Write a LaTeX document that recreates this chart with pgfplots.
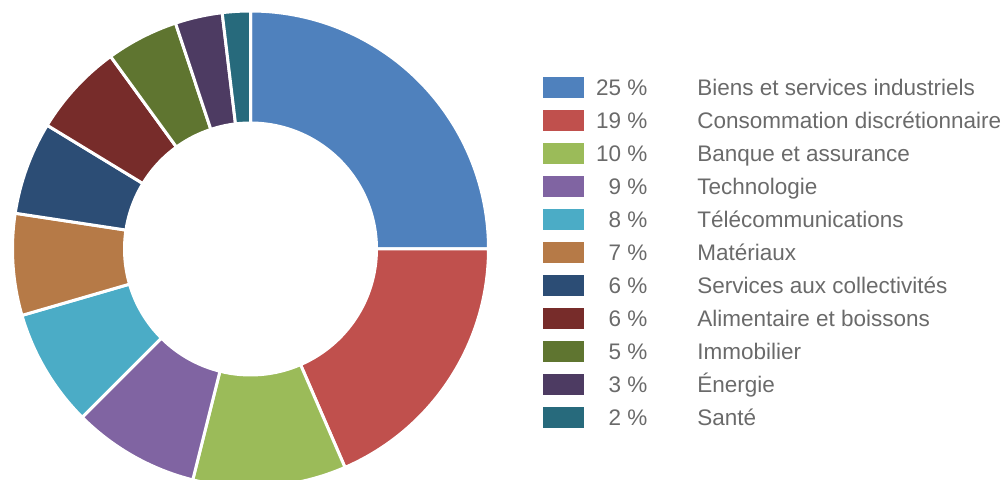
\documentclass[border=0pt]{standalone}
\usepackage{fontspec}
\setmainfont{Liberation Sans}
\usepackage{pgfplots}
\usepackage{pgfplotstable}
\pgfplotsset{compat=1.18}
\definecolor{c0}{HTML}{4F81BD}
\definecolor{c1}{HTML}{C0504D}
\definecolor{c2}{HTML}{9BBB59}
\definecolor{c3}{HTML}{8064A2}
\definecolor{c4}{HTML}{4BACC6}
\definecolor{c5}{HTML}{B67A47}
\definecolor{c6}{HTML}{2C4D75}
\definecolor{c7}{HTML}{772C2A}
\definecolor{c8}{HTML}{5F7530}
\definecolor{c9}{HTML}{4D3B62}
\definecolor{c10}{HTML}{276A7C}
\definecolor{txt}{HTML}{6A6A6A}

\pgfplotstableread{
share
25.0
18.5
10.4
8.6
8.0
6.9
6.3
6.3
4.9
3.2
1.9
}\shares

\begin{document}
\begin{tikzpicture}
\begin{axis}[name=ax, x=1pt, y=1pt, xmin=0, xmax=1008, ymin=0, ymax=479,
  hide axis, disabledatascaling, clip=true,
  legend style={at={(axis cs:543,402)}, anchor=north west, draw=none, fill=none,
    inner sep=0pt, outer sep=0pt, row sep=9.8pt, column sep=0pt,
    font=\fontsize{22.5}{27}\selectfont, text=txt,
    nodes={inner sep=0pt, outer sep=0pt, text height=17pt, text depth=5pt}},
  legend cell align=left,
  legend image code/.code={\fill[#1] (0pt,-8pt) rectangle (40pt,12pt);},
]
\gdef\startang{90}
\pgfplotsinvokeforeach{0,...,10}{%
  \pgfplotstablegetelem{#1}{share}\of\shares
  \pgfmathsetmacro\endang{\startang-3.6*\pgfplotsretval}%
  \edef\cmd{\noexpand\fill[c#1, draw=white, line width=3pt] (axis cs:250.5,230) ++(\startang:238pt) arc[start angle=\startang, end angle=\endang, radius=238pt] -- ++(\endang:-112pt) arc[start angle=\endang, end angle=\startang, radius=126pt] -- cycle;}%
  \cmd
  \global\let\startang\endang
}
\addlegendimage{c0}\addlegendentry{\makebox[64pt][r]{25 \%}\hspace{50pt}Biens et services industriels}
\addlegendimage{c1}\addlegendentry{\makebox[64pt][r]{19 \%}\hspace{50pt}Consommation discrétionnaire}
\addlegendimage{c2}\addlegendentry{\makebox[64pt][r]{10 \%}\hspace{50pt}Banque et assurance}
\addlegendimage{c3}\addlegendentry{\makebox[64pt][r]{9 \%}\hspace{50pt}Technologie}
\addlegendimage{c4}\addlegendentry{\makebox[64pt][r]{8 \%}\hspace{50pt}Télécommunications}
\addlegendimage{c5}\addlegendentry{\makebox[64pt][r]{7 \%}\hspace{50pt}Matériaux}
\addlegendimage{c6}\addlegendentry{\makebox[64pt][r]{6 \%}\hspace{50pt}Services aux collectivités}
\addlegendimage{c7}\addlegendentry{\makebox[64pt][r]{6 \%}\hspace{50pt}Alimentaire et boissons}
\addlegendimage{c8}\addlegendentry{\makebox[64pt][r]{5 \%}\hspace{50pt}Immobilier}
\addlegendimage{c9}\addlegendentry{\makebox[64pt][r]{3 \%}\hspace{50pt}Énergie}
\addlegendimage{c10}\addlegendentry{\makebox[64pt][r]{2 \%}\hspace{50pt}Santé}
\end{axis}
\pgfresetboundingbox
\path[use as bounding box] (ax.south west) rectangle (ax.north east);
\end{tikzpicture}
\end{document}
